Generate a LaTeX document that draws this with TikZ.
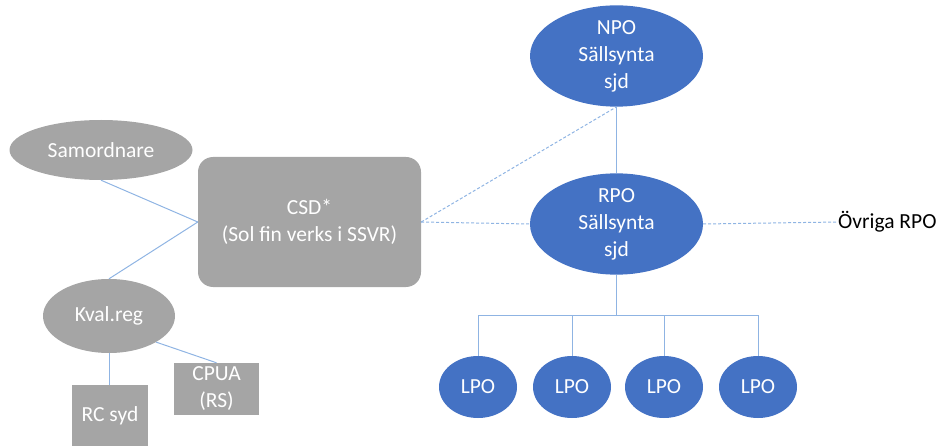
\documentclass[tikz,border=0pt]{standalone}
\usepackage{fontspec}
\setmainfont{Carlito}
\usetikzlibrary{shapes.geometric}
\definecolor{nodeblue}{RGB}{68,114,196}
\definecolor{nodegray}{RGB}{165,165,165}
\definecolor{linkblue}{RGB}{143,180,227}
\begin{document}
\begin{tikzpicture}[x=1pt,y=-1pt,
  every node/.style={font=\fontsize{21.5}{27}\selectfont, align=center, inner sep=0pt},
  blueell/.style={ellipse, fill=nodeblue, text=white},
  grayell/.style={ellipse, fill=nodegray, text=white},
  graybox/.style={rectangle, fill=nodegray, text=white},
  link/.style={draw=linkblue, line width=1pt},
  dlink/.style={draw=linkblue, line width=1pt, dash pattern=on 3pt off 2pt}]
\useasboundingbox (0,0) rectangle (944,446);
% left part
\node[grayell, minimum width=183pt, minimum height=60pt] (sam) at (101,150) {Samordnare};
\node[graybox, rounded corners=15pt, minimum width=223pt, minimum height=130pt] (csd) at (309.5,222) {CSD*\\(Sol fin verks i SSVR)};
\node[grayell, minimum width=132pt, minimum height=74pt] (kval) at (109,316) {Kval.reg};
\node[graybox, minimum width=76pt, minimum height=61pt] (rc) at (110,415.5) {RC syd};
\node[graybox, minimum width=85pt, minimum height=52pt] (cpua) at (216.5,389) {CPUA\\(RS)};
% right part
\node[blueell, minimum width=173pt, minimum height=88pt] (npo) at (616.5,56) {NPO\\Sällsynta\\sjd};
\node[blueell, minimum width=173pt, minimum height=88pt] (rpo) at (616.5,224) {RPO\\Sällsynta\\sjd};
\node[anchor=west, text=black] (ovr) at (838,222) {Övriga RPO};
\node[blueell, minimum width=78pt, minimum height=62pt] (lpo1) at (478,387) {LPO};
\node[blueell, minimum width=78pt, minimum height=62pt] (lpo2) at (572,387) {LPO};
\node[blueell, minimum width=78pt, minimum height=62pt] (lpo3) at (664,387) {LPO};
\node[blueell, minimum width=78pt, minimum height=62pt] (lpo4) at (758,387) {LPO};
\coordinate (bus) at (616.5,315);
% connectors
\draw[link] (sam.south) -- (csd.west);
\draw[link] (kval.north) -- (csd.west);
\draw[link] (kval.south) -- (kval.south |- rc.north);
\draw[link] (kval.-29) -- (cpua.north);
\draw[dlink] (csd.east) -- (npo.south);
\draw[dlink] (csd.east) -- (rpo.west);
\draw[dlink] (rpo.east) -- (ovr.west);
\draw[link] (npo.south) -- (rpo.north);
\draw[link] (rpo.south) -- (bus);
\draw[link] (lpo1.north) |- (bus);
\draw[link] (lpo2.north) |- (bus);
\draw[link] (lpo3.north) |- (bus);
\draw[link] (lpo4.north) |- (bus);
\end{tikzpicture}
\end{document}
